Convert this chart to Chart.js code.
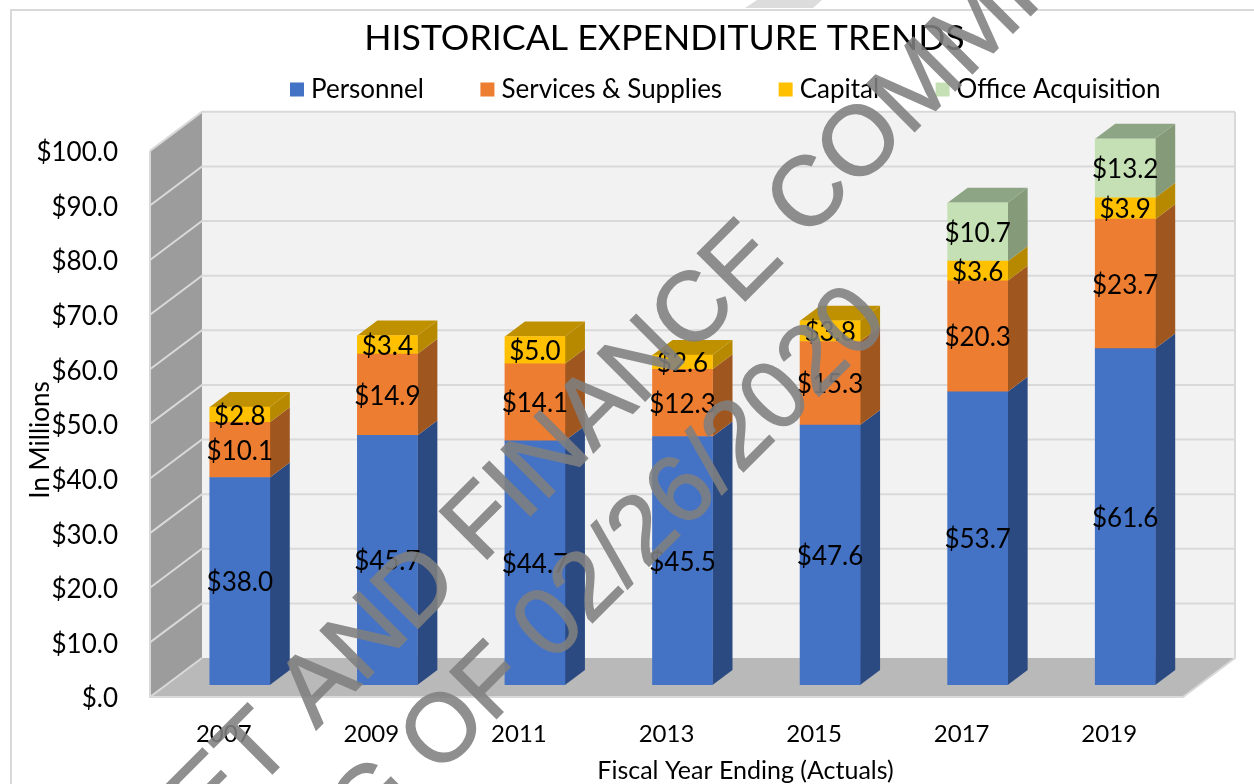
<!DOCTYPE html>
<html lang="en">
<head>
<meta charset="UTF-8">
<title>Historical Expenditure Trends</title>
<script src="https://cdn.jsdelivr.net/npm/chart.js@4/dist/chart.umd.min.js"></script>
<style>
    body { margin: 0; background: #fff; }
    canvas { display: block; }
</style>
</head>
<body>
<canvas id="chart" width="1254" height="784"></canvas>
<script>
const years = ['2007', '2009', '2011', '2013', '2015', '2017', '2019'];
const personnel = [38.0, 45.7, 44.7, 45.5, 47.6, 53.7, 61.6];
const services = [10.1, 14.9, 14.1, 12.3, 15.3, 20.3, 23.7];
const capital = [2.8, 3.4, 5.0, 2.6, 3.8, 3.6, 3.9];
const office = [null, null, null, null, null, 10.7, 13.2];

const FONT = 'Lato';
// how far the bar plane sits from the front and the back of the floor
const FRONT = { x: -16, y: 12 };
const BACK = { x: 36, y: -27 };
const BAR_DEPTH = { x: 20, y: -15 };

function poly(ctx, pts, fill) {
    ctx.beginPath();
    pts.forEach((p, i) => i ? ctx.lineTo(p[0], p[1]) : ctx.moveTo(p[0], p[1]));
    ctx.closePath();
    ctx.fillStyle = fill;
    ctx.fill();
}

// walls, floor and the gridlines, all taken from the y scale
const walls = {
    id: 'walls',
    beforeDraw(chart) {
        const { ctx } = chart;
        ctx.save();
        poly(ctx, [[745, 8], [757, 0], [822, 0], [813, 8]], '#dcdcdc'); // stray bit of watermark above the frame
        ctx.strokeStyle = '#d9d9d9';
        ctx.lineWidth = 2;
        ctx.strokeRect(11, 10, 1400, 1000);
        ctx.restore();
    },
    beforeDatasetsDraw(chart) {
        const { ctx, chartArea: a, scales: { y } } = chart;
        const y0 = y.getPixelForValue(0);
        const yTop = y.getPixelForValue(100);
        const fl = a.left + FRONT.x, fr = a.right + FRONT.x;
        const bl = a.left + BACK.x, br = a.right + BACK.x;
        ctx.save();
        ctx.fillStyle = '#f2f2f2';
        ctx.fillRect(bl, yTop + BACK.y, br - bl, y0 - yTop);
        poly(ctx, [[fl, y0 + FRONT.y], [bl, y0 + BACK.y], [bl, yTop + BACK.y], [fl, yTop + FRONT.y]], '#9c9c9c');
        poly(ctx, [[fl, y0 + FRONT.y], [fr, y0 + FRONT.y], [br, y0 + BACK.y], [bl, y0 + BACK.y]], '#b9b9b9');
        ctx.strokeStyle = '#d9d9d9';
        ctx.lineWidth = 2;
        y.ticks.forEach(t => {
            const py = y.getPixelForValue(t.value);
            ctx.beginPath();
            ctx.moveTo(fl, py + FRONT.y);
            ctx.lineTo(bl, py + BACK.y);
            if (t.value > 0) ctx.lineTo(br, py + BACK.y);
            ctx.stroke();
        });
        ctx.beginPath();
        ctx.moveTo(fl, yTop + FRONT.y);
        ctx.lineTo(fl, y0 + FRONT.y);
        ctx.lineTo(fr, y0 + FRONT.y);
        ctx.lineTo(br, y0 + BACK.y);
        ctx.lineTo(br, yTop + BACK.y);
        ctx.stroke();
        ctx.restore();
    }
};

// side and top faces of the bars, read from the bar elements
const barFaces = {
    id: 'barFaces',
    beforeDatasetsDraw(chart) {
        const { ctx, chartArea: a } = chart;
        const d = BAR_DEPTH;
        chart.data.datasets.forEach((ds, i) => {
            chart.getDatasetMeta(i).data.forEach((bar, j) => {
                if (ds.data[j] == null) return;
                const r = bar.x + bar.width / 2;
                const top = Math.max(bar.y, a.top);
                poly(ctx, [[r, top], [r + d.x, top + d.y], [r + d.x, bar.base + d.y], [r, bar.base]], ds.sideColor);
                const above = chart.data.datasets.slice(i + 1).some(o => o.data[j] != null);
                if (!above) {
                    const l = bar.x - bar.width / 2;
                    poly(ctx, [[l, top], [r, top], [r + d.x, top + d.y], [l + d.x, top + d.y]], ds.topColor);
                }
            });
        });
    }
};

const valueLabels = {
    id: 'valueLabels',
    afterDatasetsDraw(chart) {
        const { ctx, chartArea: a } = chart;
        ctx.save();
        ctx.font = '26px ' + FONT;
        ctx.fillStyle = '#000';
        ctx.textAlign = 'center';
        ctx.textBaseline = 'middle';
        chart.data.datasets.forEach((ds, i) => {
            chart.getDatasetMeta(i).data.forEach((bar, j) => {
                if (ds.data[j] == null) return;
                ctx.fillText('$' + ds.data[j].toFixed(1), bar.x, (Math.max(bar.y, a.top) + bar.base) / 2 + 1.5);
            });
        });
        ctx.restore();
    }
};

function watermarkLine(ctx, text, x, y, size) {
    ctx.save();
    ctx.translate(x, y);
    ctx.rotate(-Math.PI / 4);
    ctx.font = size + 'px "Liberation Sans"';
    ctx.fillStyle = '#808080';
    ctx.strokeStyle = '#808080';
    ctx.lineWidth = 1.5;
    ctx.lineJoin = 'miter';
    ctx.fillText(text, 0, 0);
    ctx.strokeText(text, 0, 0);
    ctx.restore();
}

// drawn on its own layer first so the thickened letters keep one flat tone
const watermark = {
    id: 'watermark',
    afterDraw(chart) {
        const layer = document.createElement('canvas');
        layer.width = chart.width;
        layer.height = chart.height;
        const lctx = layer.getContext('2d');
        watermarkLine(lctx, 'BUDGET AND FINANCE COMMITTEE', 8, 1038, 98);
        watermarkLine(lctx, 'MEETING OF 02/26/2020', 110, 1105, 96);
        chart.ctx.save();
        chart.ctx.globalAlpha = 0.88;
        chart.ctx.drawImage(layer, 0, 0);
        chart.ctx.restore();
    }
};

// title, legend and axis titles sit off centre in the original.
// the scales are only nudged while their titles draw, bars clip to them after that
const XT = 63, YT = 28;
const placeBoxes = {
    id: 'placeBoxes',
    afterLayout(chart) {
        const t = chart.titleBlock;
        t.left += 65; t.right += 65; t.top = 17;
        const l = chart.legend;
        l.left = 233.5; l.right = 1254; l.top = 14;
    },
    beforeDraw(chart) {
        chart.scales.x.left += XT; chart.scales.x.right += XT;
        chart.scales.y.top += YT; chart.scales.y.bottom += YT;
    },
    beforeDatasetsDraw(chart) {
        chart.scales.x.left -= XT; chart.scales.x.right -= XT;
        chart.scales.y.top -= YT; chart.scales.y.bottom -= YT;
    }
};

new Chart(document.getElementById('chart'), {
    type: 'bar',
    data: {
        labels: years,
        datasets: [
            { label: 'Personnel', data: personnel, backgroundColor: '#4472c4', sideColor: '#2c4a82', topColor: '#2c4a82' },
            { label: 'Services & Supplies', data: services, backgroundColor: '#ed7d31', sideColor: '#a0561f', topColor: '#a0561f' },
            { label: 'Capital', data: capital, backgroundColor: '#ffc000', sideColor: '#b68900', topColor: '#bf9000' },
            { label: 'Office Acquisition', data: office, backgroundColor: '#c5e0b4', sideColor: '#849a78', topColor: '#8ea585' }
        ]
    },
    plugins: [placeBoxes, walls, barFaces, valueLabels, watermark],
    options: {
        responsive: false,
        animation: false,
        layout: { padding: { top: -2.5, right: 55 } },
        datasets: { bar: { barThickness: 60 } },
        plugins: {
            tooltip: { enabled: false },
            title: {
                display: true,
                text: 'HISTORICAL EXPENDITURE TRENDS',
                color: '#000',
                font: { family: FONT, size: 35.7, weight: 'normal' },
                padding: 0
            },
            legend: {
                align: 'start',
                labels: {
                    usePointStyle: true,
                    pointStyle: 'rect',
                    boxWidth: 2,
                    boxHeight: 14,
                    padding: 62.5,
                    color: '#000',
                    font: { family: FONT, size: 26 }
                }
            }
        },
        scales: {
            x: {
                stacked: true,
                grid: { display: false },
                border: { display: false },
                afterFit(scale) { scale.height = 99; },
                ticks: {
                    color: '#000',
                    font: { family: FONT, size: 24 },
                    padding: 27,
                    labelOffset: -16,
                    maxRotation: 0,
                    autoSkip: false
                },
                title: {
                    display: true,
                    text: 'Fiscal Year Ending (Actuals)',
                    color: '#000',
                    font: { family: FONT, size: 25 },
                    padding: { top: -2, bottom: -2 }
                }
            },
            y: {
                stacked: true,
                min: 0,
                max: 100,
                grid: { display: false },
                border: { display: false },
                afterFit(scale) { scale.width = 166; },
                ticks: {
                    stepSize: 10,
                    color: '#000',
                    font: { family: FONT, size: 26 },
                    padding: 40,
                    labelOffset: 14,
                    callback: v => v === 0 ? '$.0' : '$' + v.toFixed(1)
                },
                title: {
                    display: true,
                    text: 'In Millions',
                    color: '#000',
                    font: { family: FONT, size: 26 },
                    padding: { top: 25, bottom: 0 }
                }
            }
        }
    }
});
</script>
</body>
</html>
